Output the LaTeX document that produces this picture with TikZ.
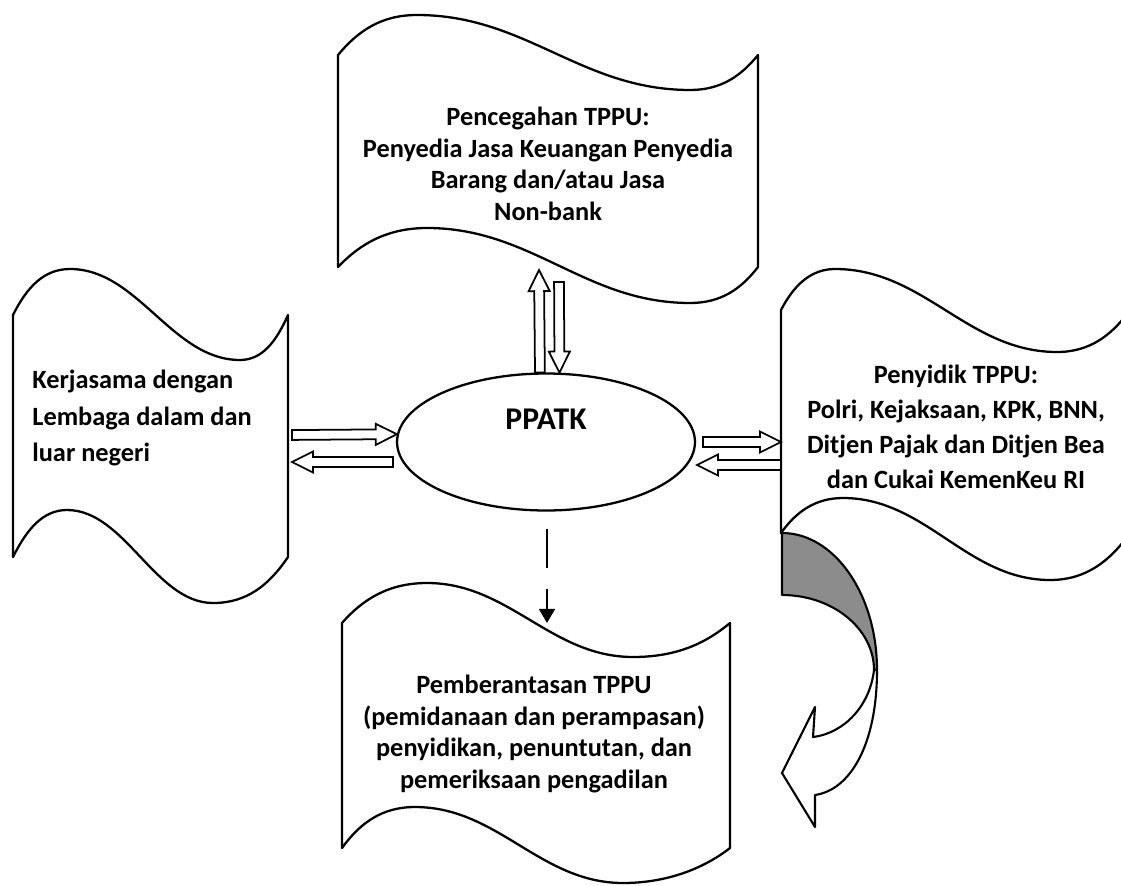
\documentclass[tikz,border=0pt]{standalone}
\usepackage{fontspec}
\setmainfont{Carlito}
\usetikzlibrary{shapes.geometric,calc,arrows.meta}
\tikzset{
  tape/.style={draw, line width=1.3pt, line join=round},
  boxtext/.style={font=\bfseries\fontsize{15}{18}\selectfont, align=center, inner sep=0pt},
  hollow/.style={draw, fill=white, line width=1pt, line join=miter, to path={
    ($(\tikztotarget)!12pt!(\tikztostart)$) coordinate (hb)
    ($(\tikztostart)!2.8pt!90:(\tikztotarget)$) -- ($(hb)!2.8pt!90:(\tikztotarget)$)
    -- ($(hb)!6pt!90:(\tikztotarget)$) -- (\tikztotarget)
    -- ($(hb)!6pt!-90:(\tikztotarget)$) -- ($(hb)!2.8pt!-90:(\tikztotarget)$)
    -- ($(\tikztostart)!2.8pt!-90:(\tikztotarget)$) -- cycle}}
}
\begin{document}
\begin{tikzpicture}[x=0.02cm,y=-0.02cm]
\useasboundingbox (0,0) rectangle (1121,885);
\clip (0,0) rectangle (1121,885);
\draw[tape] (338,55) .. controls (358,31) and (381,15) .. (417,15)
  .. controls (526,15) and (581,90) .. (690,90)
  .. controls (721,90) and (741,76) .. (758,55) -- (758,267)
  .. controls (741,289) and (721,303) .. (690,303)
  .. controls (585,303) and (532,228) .. (427,228)
  .. controls (387,228) and (360,244) .. (338,267) -- cycle;
\draw[tape] (13,315) .. controls (27,287) and (44,269) .. (70,269)
  .. controls (138,269) and (172,360) .. (240,360)
  .. controls (262,360) and (276,342) .. (288,315) -- (288,557)
  .. controls (269,585) and (247,603) .. (213,603)
  .. controls (155,603) and (125,510) .. (67,510)
  .. controls (43,510) and (27,529) .. (13,557) -- cycle;
\draw[tape] (781,310) .. controls (794,285) and (811,269) .. (835,269)
  .. controls (924,269) and (968,352) .. (1057,352)
  .. controls (1090,352) and (1112,335) .. (1130,310) -- (1130,533)
  .. controls (1110,561) and (1086,580) .. (1050,580)
  .. controls (967,580) and (926,498) .. (843,498)
  .. controls (815,498) and (796,512) .. (781,533) -- cycle;
\draw[tape] (342,623) .. controls (363,599) and (389,583) .. (427,583)
  .. controls (509,583) and (551,657) .. (633,657)
  .. controls (677,657) and (706,643) .. (730,623) -- (730,848)
  .. controls (703,869) and (666,883) .. (623,883)
  .. controls (540,883) and (498,807) .. (415,807)
  .. controls (382,807) and (360,823) .. (342,848) -- cycle;
\draw[tape, line width=1.2pt, fill=black!45] (782,533) .. controls (834,533) and (877,594) .. (877,670)
  -- (874,670) .. controls (874,629) and (833,595) .. (782,595) -- cycle;
\draw[tape, line width=1.2pt, fill=white] (877,670) .. controls (877,745) and (850,790) .. (815,795)
  -- (815,827) -- (782,773) -- (815,707) -- (813,737)
  .. controls (845,733) and (870,705) .. (874,670) -- cycle;
\node[draw, ellipse, line width=1.3pt, minimum width=5.96cm, minimum height=2.74cm] (ppatk) at (546,442) {};
\node[font=\bfseries\fontsize{18}{20}\selectfont] (ppatkText) at (546,419) {PPATK};
\node[boxtext] (cegah) at (548,164) {Pencegahan TPPU:\\Penyedia Jasa Keuangan Penyedia\\Barang dan/atau Jasa\\Non-bank};
\node[boxtext, align=left, anchor=west, font=\bfseries\fontsize{15}{21}\selectfont] (kerja) at (32,418) {Kerjasama dengan\\Lembaga dalam dan\\luar negeri};
\node[boxtext, font=\bfseries\fontsize{15}{20}\selectfont] (sidik) at (956,427) {Penyidik TPPU:\\Polri, Kejaksaan, KPK, BNN,\\Ditjen Pajak dan Ditjen Bea\\dan Cukai KemenKeu RI};
\node[boxtext] (berantas) at (534,734) {Pemberantasan TPPU\\(pemidanaan dan perampasan)\\penyidikan, penuntutan, dan\hspace*{0.6cm}\\pemeriksaan pengadilan};
\coordinate (cegahA) at (539,270);
\coordinate (cegahB) at (559,282);
\coordinate (kerjaA) at (292,435);
\coordinate (kerjaB) at (292,462);
\coordinate (ppatkW) at (393,462);
\coordinate (ppatkE1) at (703,442);
\coordinate (ppatkE2) at (697,465);
\coordinate (sidikA) at (781,442);
\coordinate (sidikB) at (781,465);
\coordinate (ppatkS) at (547,529);
\coordinate (berantasN) at (547,623);
\draw[hollow] (ppatk.95) to (cegahA);
\draw[hollow] (cegahB) to (ppatk.79);
\draw[hollow] (kerjaA) to (ppatk.177);
\draw[hollow] (ppatkW) to (kerjaB);
\draw[hollow] (ppatkE1) to (sidikA);
\draw[hollow] (sidikB) to (ppatkE2);
\draw[line width=1.3pt, dash pattern=on 22pt off 12pt, -{Triangle[length=8pt,width=9pt]}] (ppatkS) -- (berantasN);
\end{tikzpicture}
\end{document}
